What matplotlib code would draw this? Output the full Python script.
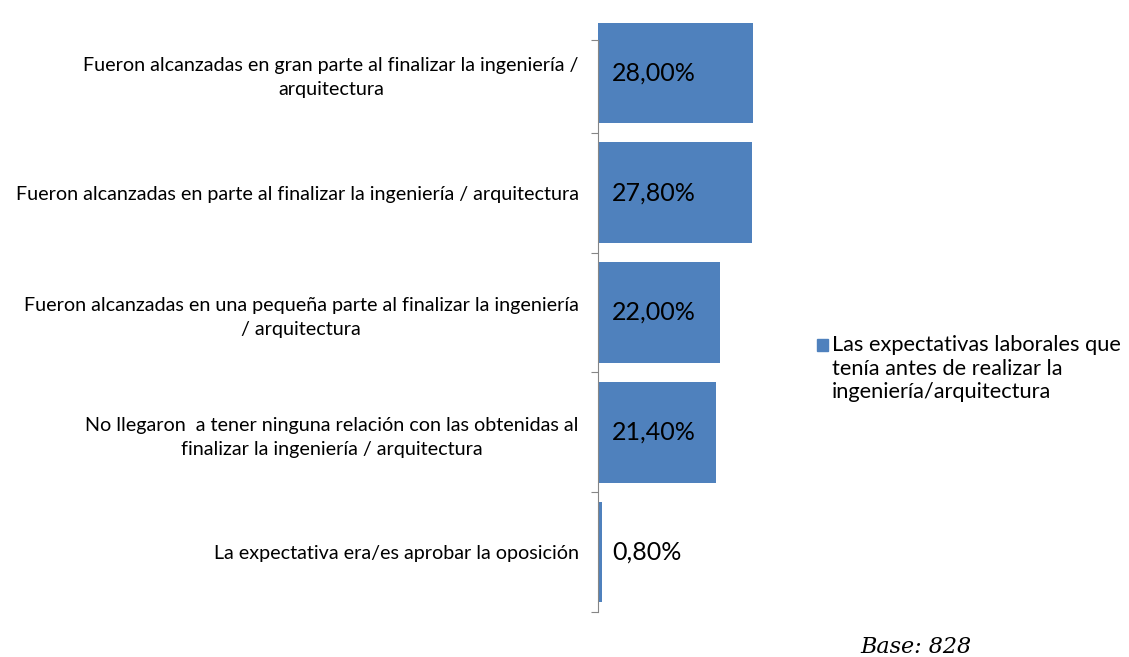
import matplotlib.pyplot as plt
from matplotlib.patches import Rectangle
import numpy as np

# respuestas y porcentajes
categories = [
    "Fueron alcanzadas en gran parte al finalizar la ingeniería /\narquitectura",
    "Fueron alcanzadas en parte al finalizar la ingeniería / arquitectura",
    "Fueron alcanzadas en una pequeña parte al finalizar la ingeniería\n/ arquitectura",
    "No llegaron  a tener ninguna relación con las obtenidas al\nfinalizar la ingeniería / arquitectura",
    "La expectativa era/es aprobar la oposición",
]
values = [28.00, 27.80, 22.00, 21.40, 0.80]
series_name = "Las expectativas laborales que\ntenía antes de realizar la\ningeniería/arquitectura"
base_note = "Base: 828"

bar_color = "#4F81BD"
axis_color = "#868686"
plt.rcParams["font.family"] = ["Lato", "DejaVu Sans"]

W, H = 1129, 657
fig = plt.figure(figsize=(W / 100, H / 100), dpi=100)
ax = fig.add_axes([598 / W, 1 - 612 / H, 166 / W, 599 / H])

pos = np.arange(len(values))
ax.barh(pos, values, height=0.84, color=bar_color)

ax.set_xlim(0, 30)
ax.set_ylim(len(values) - 0.5, -0.5)

# etiquetas de valor junto a cada barra
for p, v in zip(pos, values):
    ax.text(2.5, p, f"{v:.2f}%".replace(".", ","), va="center", ha="left",
            fontsize=18, color="black")

top = -0.275
for side in ["top", "right", "bottom"]:
    ax.spines[side].set_visible(False)
ax.spines["left"].set_color(axis_color)
ax.spines["left"].set_bounds(len(values) - 0.5, top)
ax.set_xticks([])

# marcas entre categorías, textos en el centro
ax.set_yticks([top] + list(pos[1:] - 0.5) + [len(values) - 0.5])
ax.set_yticklabels([])
ax.tick_params(axis="y", which="major", length=5, color=axis_color)
ax.set_yticks(pos, categories, minor=True)
ax.tick_params(axis="y", which="minor", length=0, pad=14, labelsize=14.2)
for lbl in ax.get_yticklabels(minor=True):
    lbl.set_multialignment("center")
    lbl.set_linespacing(1.5)

# leyenda
fig.patches.append(Rectangle((817 / W, 1 - 351 / H), 11 / W, 12 / H,
                             transform=fig.transFigure, color=bar_color))
fig.text(832 / W, 1 - 335 / H, series_name, fontsize=15.7, va="top",
         ha="left", linespacing=1.22)

fig.text(860 / W, 1 - 647 / H, base_note, family="DejaVu Serif",
         style="italic", fontsize=16, va="center", ha="left")

fig.savefig("out.png", dpi=100)
